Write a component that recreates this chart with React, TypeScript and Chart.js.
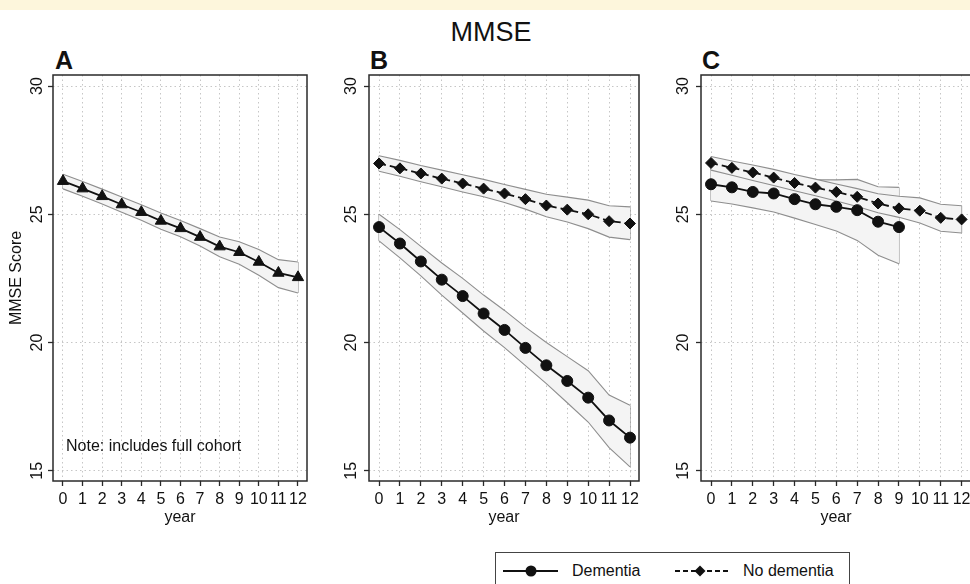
import React, { useEffect, useRef } from 'react';
import { Chart, registerables } from 'chart.js';

Chart.register(...registerables);

// ---------- data ----------
const years = [0, 1, 2, 3, 4, 5, 6, 7, 8, 9, 10, 11, 12];
const yearsC_dementia = [0, 1, 2, 3, 4, 5, 6, 7, 8, 9];
const yTicks = [15, 20, 25, 30];

// Panel A: full cohort
const aMean = [26.29, 26.0, 25.7, 25.38, 25.08, 24.74, 24.45, 24.11, 23.74, 23.52, 23.14, 22.71, 22.54];
const aLower = [25.99, 25.7, 25.4, 25.08, 24.77, 24.42, 24.12, 23.76, 23.34, 23.05, 22.62, 22.14, 21.93];
const aUpper = [26.56, 26.28, 25.98, 25.67, 25.37, 25.05, 24.76, 24.44, 24.11, 23.93, 23.63, 23.23, 23.14];

// Panel B
const bDemMean = [24.5, 23.86, 23.16, 22.45, 21.81, 21.13, 20.49, 19.79, 19.11, 18.5, 17.85, 16.96, 16.29];
const bDemLower = [23.96, 23.3, 22.6, 21.85, 21.15, 20.45, 19.8, 19.1, 18.4, 17.65, 16.9, 15.9, 15.15];
const bDemUpper = [25.0, 24.4, 23.75, 23.1, 22.5, 21.85, 21.25, 20.6, 20.0, 19.45, 18.9, 17.95, 17.55];
const bNoMean = [26.98, 26.79, 26.59, 26.39, 26.2, 26.0, 25.81, 25.59, 25.34, 25.18, 25.0, 24.73, 24.64];
const bNoLower = [26.68, 26.48, 26.27, 26.07, 25.87, 25.68, 25.46, 25.2, 24.9, 24.7, 24.44, 24.11, 24.01];
const bNoUpper = [27.28, 27.1, 26.9, 26.72, 26.54, 26.36, 26.16, 25.97, 25.78, 25.67, 25.55, 25.33, 25.29];

// Panel C
const cDemMean = [26.17, 26.05, 25.87, 25.81, 25.59, 25.39, 25.29, 25.16, 24.71, 24.5];
const cDemLower = [25.52, 25.4, 25.25, 25.09, 24.85, 24.6, 24.35, 23.98, 23.4, 23.07];
const cDemUpper = [26.85, 26.75, 26.65, 26.55, 26.45, 26.35, 26.34, 26.36, 26.07, 26.05];
const cNoMean = [27.0, 26.81, 26.63, 26.43, 26.22, 26.04, 25.87, 25.68, 25.42, 25.23, 25.14, 24.86, 24.8];
const cNoLower = [26.72, 26.52, 26.32, 26.12, 25.92, 25.72, 25.52, 25.3, 25.06, 24.88, 24.66, 24.34, 24.27];
const cNoUpper = [27.25, 27.08, 26.92, 26.75, 26.55, 26.37, 26.18, 26.0, 25.8, 25.7, 25.64, 25.39, 25.33];

// ---------- styles ----------
const FONT = '"Liberation Sans", Arial, Helvetica, sans-serif';
const BAND_FILL = '#f4f4f4';
const BAND_LINE = '#8e8e8e';
const INK = '#111111';
const TXT = 16;

const pts = (xs: number[], ys: number[]) => xs.map((x, i) => ({ x, y: ys[i] }));

function bandDatasets(xs: number[], lower: number[], upper: number[], startIndex: number) {
  const last = xs.length - 1;
  const edge = {
    borderColor: BAND_LINE,
    borderWidth: 1.1,
    pointRadius: 0,
    fill: false,
    order: 2,
  };
  return [
    { ...edge, data: pts(xs, lower) },
    { ...edge, data: pts(xs, upper), backgroundColor: BAND_FILL, fill: { target: startIndex } },
    {
      ...edge,
      data: [
        { x: xs[0], y: lower[0] },
        { x: xs[0], y: upper[0] },
      ],
    },
    {
      ...edge,
      data: [
        { x: xs[last], y: lower[last] },
        { x: xs[last], y: upper[last] },
      ],
    },
  ];
}

function meanDataset(xs: number[], ys: number[], style: string, radius: number, dashed: boolean) {
  return {
    data: pts(xs, ys),
    borderColor: INK,
    borderWidth: 1.8,
    borderDash: dashed ? [7, 4] : [],
    pointStyle: style,
    pointRadius: radius,
    pointBackgroundColor: INK,
    pointBorderColor: INK,
    pointBorderWidth: 1,
    fill: false,
    order: 0,
  };
}

const framePlugin = {
  id: 'frame',
  afterDatasetsDraw(chart: any) {
    const { ctx, chartArea } = chart;
    const { left, top, right, bottom } = chartArea;
    ctx.save();
    ctx.strokeStyle = '#2a2a2a';
    ctx.lineWidth = 1.5;
    ctx.strokeRect(left, top, right - left, bottom - top);
    ctx.restore();
  },
};

function makeConfig(p: {
  datasets: any[];
  xMin: number;
  xMax: number;
  yWidth: number;
  padRight: number;
  yTitle?: string;
  yTickPad: number;
}) {
  const grid = {
    color: '#c6c6c6',
    lineWidth: 1,
    drawTicks: true,
    tickLength: 5,
    tickColor: '#2a2a2a',
    tickWidth: 1.3,
  };
  const border = { display: false, dash: [1.5, 3] };
  return {
    type: 'line',
    data: { datasets: p.datasets },
    plugins: [framePlugin],
    options: {
      animation: false,
      responsive: false,
      maintainAspectRatio: false,
      events: [],
      layout: { padding: { top: 15, right: p.padRight, left: 0, bottom: 0 } },
      plugins: { legend: { display: false }, tooltip: { enabled: false } },
      elements: { line: { tension: 0 } },
      scales: {
        x: {
          type: 'linear',
          min: p.xMin,
          max: p.xMax,
          afterBuildTicks: (s: any) => {
            s.ticks = years.map((v) => ({ value: v }));
          },
          afterFit: (s: any) => {
            s.height = 59;
          },
          grid,
          border,
          ticks: {
            color: INK,
            font: { size: TXT, family: FONT },
            padding: 4,
            maxRotation: 0,
            minRotation: 0,
            autoSkip: false,
            callback: (v: any) => String(v),
          },
          title: {
            display: true,
            text: 'year',
            color: INK,
            font: { size: TXT, family: FONT },
            padding: { top: 0, bottom: 13 },
          },
        },
        y: {
          type: 'linear',
          min: 14.6,
          max: 30.43,
          afterBuildTicks: (s: any) => {
            s.ticks = yTicks.map((v) => ({ value: v }));
          },
          afterFit: (s: any) => {
            s.width = p.yWidth;
          },
          grid,
          border,
          ticks: {
            color: INK,
            font: { size: TXT, family: FONT },
            padding: p.yTickPad,
            minRotation: 90,
            maxRotation: 90,
            crossAlign: 'center',
            autoSkip: false,
            callback: (v: any) => String(v),
          },
          title: {
            display: !!p.yTitle,
            text: p.yTitle || '',
            color: INK,
            font: { size: TXT, family: FONT },
            padding: { top: 7, bottom: 0 },
          },
        },
      },
    },
  };
}

function Panel(props: { left: number; width: number; config: any }) {
  const ref = useRef<HTMLCanvasElement | null>(null);
  useEffect(() => {
    if (!ref.current) return;
    const chart = new Chart(ref.current, props.config);
    return () => chart.destroy();
  }, []);
  return (
    <canvas
      ref={ref}
      width={props.width}
      height={480}
      style={{ position: 'absolute', left: props.left, top: 60, width: props.width, height: 480 }}
    />
  );
}

const configA = makeConfig({
  datasets: [meanDataset(years, aMean, 'triangle', 6.5, false), ...bandDatasets(years, aLower, aUpper, 1)],
  xMin: -0.51,
  xMax: 12.46,
  yWidth: 53,
  padRight: 13,
  yTitle: 'MMSE Score',
  yTickPad: 2,
});

const configB = makeConfig({
  datasets: [
    meanDataset(years, bDemMean, 'circle', 5.5, false),
    meanDataset(years, bNoMean, 'rectRot', 5.5, true),
    ...bandDatasets(years, bDemLower, bDemUpper, 2),
    ...bandDatasets(years, bNoLower, bNoUpper, 6),
  ],
  xMin: -0.48,
  xMax: 12.43,
  yWidth: 49,
  padRight: 11,
  yTickPad: 4,
});

const configC = makeConfig({
  datasets: [
    meanDataset(yearsC_dementia, cDemMean, 'circle', 5.5, false),
    meanDataset(years, cNoMean, 'rectRot', 5.5, true),
    ...bandDatasets(years, cNoLower, cNoUpper, 2),
    ...bandDatasets(yearsC_dementia, cDemLower, cDemUpper, 6),
  ],
  xMin: -0.48,
  xMax: 12.45,
  yWidth: 51,
  padRight: 9,
  yTickPad: 4,
});

const letterStyle: React.CSSProperties = {
  position: 'absolute',
  top: 48,
  fontFamily: FONT,
  fontWeight: 'bold',
  fontSize: 25,
  lineHeight: 1,
  color: INK,
};

export default function App() {
  return (
    <div
      style={{
        position: 'absolute',
        left: 0,
        top: 0,
        width: 970,
        height: 584,
        overflow: 'hidden',
        background: '#ffffff',
        fontFamily: FONT,
      }}
    >
      <div style={{ position: 'absolute', left: 0, top: 0, width: 970, height: 10, background: '#fdf6dc' }} />
      <div
        style={{
          position: 'absolute',
          left: 0,
          width: 982,
          top: 19,
          textAlign: 'center',
          fontSize: 27,
          lineHeight: 1,
          color: INK,
        }}
      >
        MMSE
      </div>
      <div style={{ ...letterStyle, left: 55 }}>A</div>
      <div style={{ ...letterStyle, left: 370 }}>B</div>
      <div style={{ ...letterStyle, left: 702 }}>C</div>

      <Panel left={0} width={320} config={configA} />
      <Panel left={320} width={330} config={configB} />
      <Panel left={650} width={330} config={configC} />

      <div
        style={{
          position: 'absolute',
          left: 66,
          top: 438,
          fontSize: TXT,
          lineHeight: 1,
          color: INK,
        }}
      >
        Note: includes full cohort
      </div>

      <div
        style={{
          position: 'absolute',
          left: 495,
          top: 552,
          width: 355,
          height: 50,
          boxSizing: 'border-box',
          border: '1.3px solid #444',
          background: '#fff',
        }}
      >
        <svg width={355} height={50} style={{ position: 'absolute', left: -1, top: -1 }}>
          <line x1={8} y1={19} x2={63} y2={19} stroke={INK} strokeWidth={1.8} />
          <circle cx={36} cy={19} r={5.5} fill={INK} />
          <line x1={180} y1={19} x2={233} y2={19} stroke={INK} strokeWidth={1.8} strokeDasharray="5 3" />
          <polygon points="205,13.5 210.5,19 205,24.5 199.5,19" fill={INK} />
        </svg>
        <div style={{ position: 'absolute', left: 76, top: 10, fontSize: TXT, lineHeight: 1, color: INK }}>Dementia</div>
        <div style={{ position: 'absolute', left: 247, top: 10, fontSize: TXT, lineHeight: 1, color: INK }}>
          No dementia
        </div>
      </div>
    </div>
  );
}
